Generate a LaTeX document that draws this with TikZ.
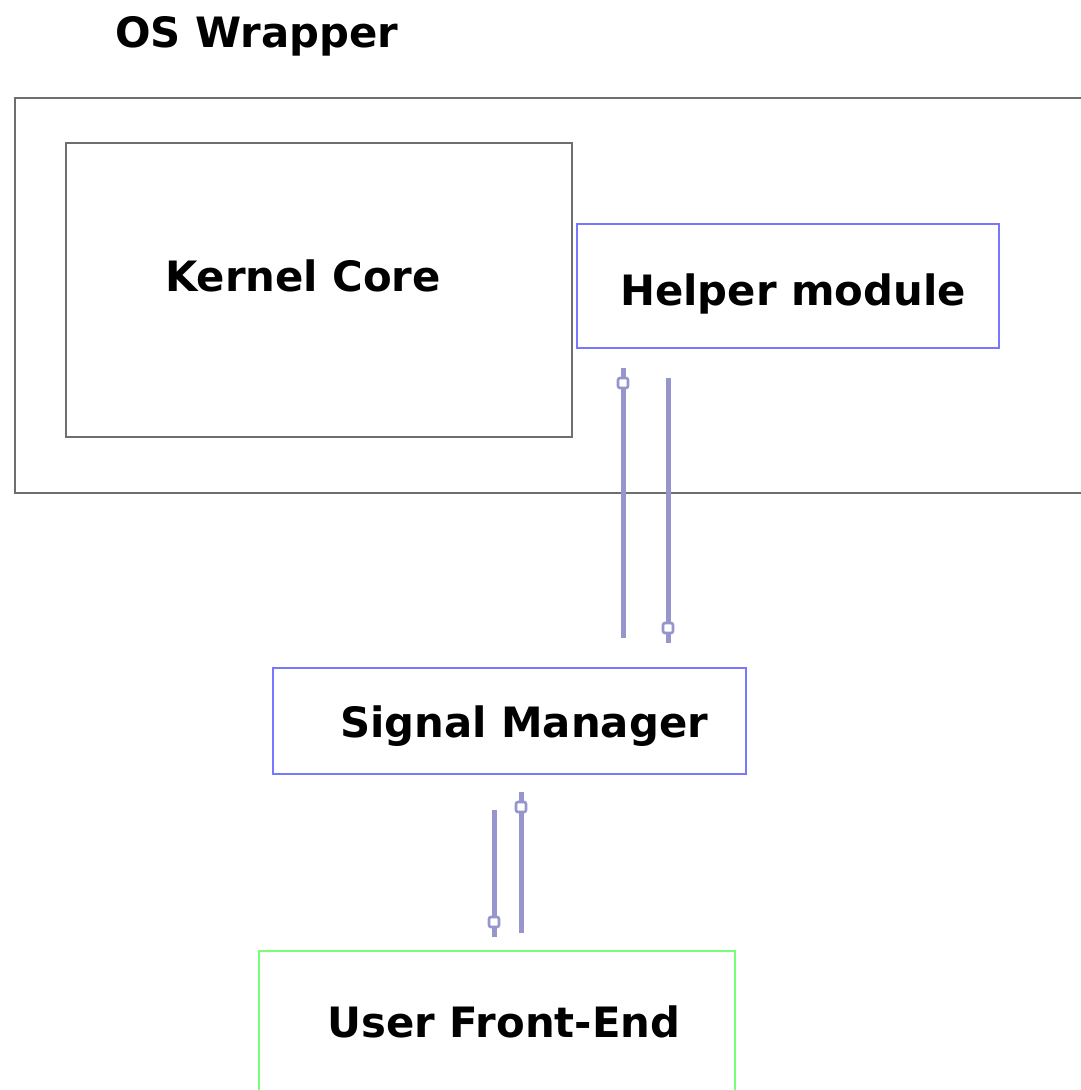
\documentclass[tikz,border=0pt]{standalone}
\usepackage{fontspec}
\setmainfont{DejaVu Sans}
\usetikzlibrary{calc}
\begin{document}
\begin{tikzpicture}[x=1pt,y=-1pt,
  lbl/.style={font=\fontsize{41.8}{50}\selectfont\bfseries, anchor=base, inner sep=0pt},
  graybox/.style={draw={rgb,255:red,110;green,110;blue,110}, line width=1.8pt},
  bluebox/.style={draw={rgb,255:red,120;green,120;blue,255}, line width=1.8pt},
  greenbox/.style={draw={rgb,255:red,120;green,255;blue,120}, line width=1.8pt},
  link/.style={draw={rgb,255:red,150;green,150;blue,205}, line width=5pt},
  knob/.style={draw={rgb,255:red,150;green,150;blue,205}, fill=white, line width=2.6pt,
    rectangle, rounded corners=2pt, minimum size=10pt, inner sep=0pt}]
  \useasboundingbox (0,0) rectangle (1081,1090);

  % containers and modules
  \draw[graybox] (1095,98) -- (15,98) -- (15,493) -- (1095,493);
  \draw[graybox] (66,143) rectangle (572,437);
  \draw[bluebox] (577,224) rectangle (999,348);
  \draw[bluebox] (273,668) rectangle (746,774);
  \draw[greenbox] (259,1100) -- (259,951) -- (735,951) -- (735,1100);

  % labels
  \node[lbl] (wrap)   at (257,47)   {OS Wrapper};
  \node[lbl] (kernel) at (303,291)  {Kernel Core};
  \node[lbl] (helper) at (793,305)  {Helper module};
  \node[lbl] (signal) at (524,737)  {Signal Manager};
  \node[lbl] (front)  at (504,1037) {User Front-End};

  % link end points
  \coordinate (hu0) at (623,638); \coordinate (hu1) at (623,368);
  \coordinate (hd0) at (668,378); \coordinate (hd1) at (668,643);
  \coordinate (ld0) at (494,810); \coordinate (ld1) at (494,937);
  \coordinate (lu0) at (521,933); \coordinate (lu1) at (521,792);

  % links between signal manager and helper module
  \draw[link] (hu0) -- (hu1);
  \node[knob] (khu) at ($(hu1)+(0,15)$) {};
  \draw[link] (hd0) -- (hd1);
  \node[knob] (khd) at ($(hd1)+(0,-15)$) {};

  % links between front-end and signal manager
  \draw[link] (ld0) -- (ld1);
  \node[knob] (kld) at ($(ld1)+(0,-15)$) {};
  \draw[link] (lu0) -- (lu1);
  \node[knob] (klu) at ($(lu1)+(0,15)$) {};
\end{tikzpicture}
\end{document}
